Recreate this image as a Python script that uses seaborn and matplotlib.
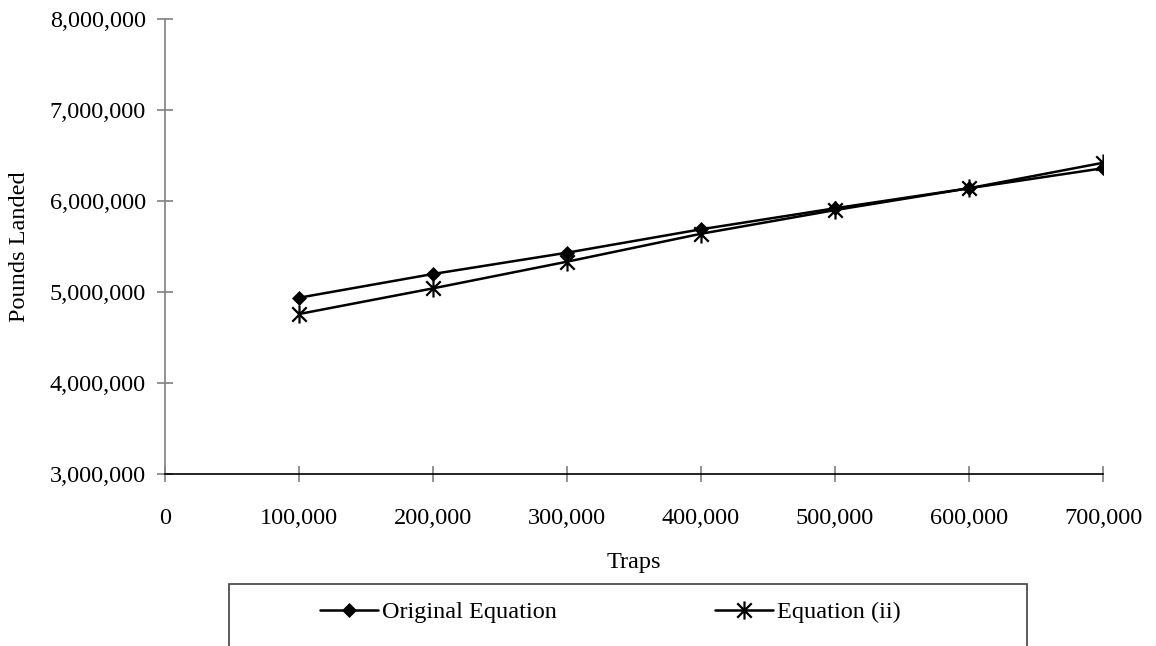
import matplotlib
matplotlib.use("Agg")
import matplotlib.pyplot as plt
from matplotlib.patches import Rectangle
from matplotlib.path import Path
from matplotlib.ticker import FuncFormatter
import pandas as pd
import seaborn as sns

# Traps fished vs. predicted pounds landed under two model equations
traps = [100000, 200000, 300000, 400000, 500000, 600000, 700000]
original_equation = [4937000, 5198000, 5432000, 5689000, 5920000, 6140000, 6360000]
equation_ii = [4758000, 5040000, 5333000, 5640000, 5900000, 6140000, 6420000]
series_names = ["Original Equation", "Equation (ii)"]
x_ticks = [0, 100000, 200000, 300000, 400000, 500000, 600000, 700000]
y_ticks = [3000000, 4000000, 5000000, 6000000, 7000000, 8000000]

df = pd.DataFrame({
    "Traps": traps * 2,
    "Pounds Landed": original_equation + equation_ii,
    "Series": [series_names[0]] * len(traps) + [series_names[1]] * len(traps),
})

# Star marker: a vertical stroke crossed by an X
star = Path(
    [(0, -1), (0, 1), (-0.8, -0.8), (0.8, 0.8), (-0.8, 0.8), (0.8, -0.8)],
    [Path.MOVETO, Path.LINETO, Path.MOVETO, Path.LINETO, Path.MOVETO, Path.LINETO],
)

sns.set_theme(style="white")
plt.rcParams["font.family"] = ["Liberation Serif", "DejaVu Serif"]
plt.rcParams["font.size"] = 17.5
plt.rcParams["text.color"] = "black"
plt.rcParams["axes.labelcolor"] = "black"

fig = plt.figure(figsize=(11.56, 6.46), dpi=100)
W, H = 1156, 646
ax = fig.add_axes([165 / W, 1 - 474 / H, (1103 - 165) / W, (474 - 19) / H])

styles = {
    series_names[0]: dict(marker="D", markersize=7.5, markeredgewidth=0.5),
    series_names[1]: dict(marker=star, markersize=13, markeredgewidth=1.6),
}
for name in series_names:
    sub = df[df["Series"] == name]
    sns.lineplot(data=sub, x="Traps", y="Pounds Landed", ax=ax, color="black",
                 linewidth=1.8, markeredgecolor="black", markerfacecolor="black",
                 label=name, legend=False, **styles[name])

ax.set_xlim(0, 700000)
ax.set_ylim(3000000, 8000000)
ax.set_xticks(x_ticks)
ax.set_yticks(y_ticks)
fmt = FuncFormatter(lambda v, p: f"{int(v):,}")
ax.xaxis.set_major_formatter(fmt)
ax.yaxis.set_major_formatter(fmt)

for side in ("top", "right"):
    ax.spines[side].set_visible(False)
ax.spines["left"].set_color("#808080")
ax.spines["left"].set_linewidth(1.2)
ax.spines["bottom"].set_color("black")
ax.spines["bottom"].set_linewidth(1.2)

ax.tick_params(axis="both", which="major", direction="inout", length=11.5,
               width=1.2, color="#808080", labelsize=17.5, labelcolor="black",
               bottom=True, left=True)
ax.tick_params(axis="y", pad=8)
ax.tick_params(axis="x", pad=19)

ax.set_xlabel("Traps", fontsize=17.5, labelpad=16)
ax.set_ylabel("Pounds Landed", fontsize=17.5, labelpad=14)

# Legend box running off the lower edge of the figure
fig.patches.append(Rectangle((229 / W, -0.05), (1027 - 229) / W, (1 - 584 / H) + 0.05,
                             transform=fig.transFigure, fill=False,
                             edgecolor="#404040", linewidth=1.2))
handles, labels = ax.get_legend_handles_labels()
fig.legend(handles, labels, loc="center left", bbox_to_anchor=(320 / W, 1 - 612 / H),
           ncol=2, frameon=False, fontsize=17.5, handlelength=2.4, handletextpad=0.15,
           columnspacing=6.5, borderpad=0, borderaxespad=0)

fig.savefig("out.png", dpi=100, facecolor="white")
